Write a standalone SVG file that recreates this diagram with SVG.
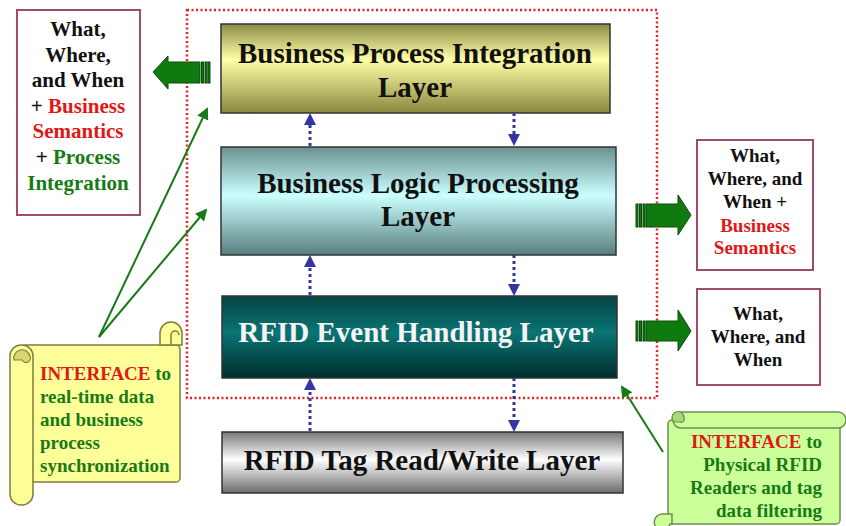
<svg xmlns="http://www.w3.org/2000/svg" width="846" height="526" viewBox="0 0 846 526">
  <style>
    text { font-family: "Liberation Serif", "Times New Roman", serif; font-weight: bold; }
    .title { font-size: 29px; text-anchor: middle; fill: #111; }
    .box { fill: #fff; stroke: #a04c6c; stroke-width: 2; }
    .side { font-size: 21px; text-anchor: middle; fill: #111; }
    .sideR { font-size: 19px; text-anchor: middle; fill: #111; }
    .note { font-size: 19px; }
    .red { fill: #e01818; }
    .grn { fill: #177a17; }
    .blk { fill: #111; }
    .layer { stroke: #333; stroke-width: 1.5; }
    .flow { stroke: #3434a4; stroke-width: 3; stroke-dasharray: 3 3; fill: none; }
    .point { stroke: #177a17; stroke-width: 2; fill: none; }
    .block { fill: #0e7a10; stroke: #0a4a0a; stroke-width: 1; }
    .scrollY { fill: #ffff99; stroke: #7c7c40; stroke-width: 1.5; }
    .scrollG { fill: #ccff99; stroke: #6c9050; stroke-width: 1.5; }
  </style>
  <defs>
    <linearGradient id="gOlive" x1="0" y1="0" x2="0" y2="1">
      <stop offset="0" stop-color="#8c8c46"/>
      <stop offset="0.4" stop-color="#ffffa8"/>
      <stop offset="1" stop-color="#88883e"/>
    </linearGradient>
    <linearGradient id="gCyan" x1="0" y1="0" x2="0" y2="1">
      <stop offset="0" stop-color="#6a9090"/>
      <stop offset="0.45" stop-color="#ccffff"/>
      <stop offset="1" stop-color="#587e7e"/>
    </linearGradient>
    <linearGradient id="gTeal" x1="0" y1="0" x2="0" y2="1">
      <stop offset="0" stop-color="#064444"/>
      <stop offset="0.45" stop-color="#0a7474"/>
      <stop offset="1" stop-color="#002c2c"/>
    </linearGradient>
    <linearGradient id="gGray" x1="0" y1="0" x2="0" y2="1">
      <stop offset="0" stop-color="#777"/>
      <stop offset="0.45" stop-color="#fff"/>
      <stop offset="1" stop-color="#6c6c6c"/>
    </linearGradient>
    <marker id="headBlue" markerWidth="4" markerHeight="4" refX="2" refY="2" orient="auto" markerUnits="strokeWidth">
      <path d="M0,0 L4,2 L0,4 Z" fill="#3434a4"/>
    </marker>
    <marker id="headGreen" markerWidth="6" markerHeight="6" refX="5" refY="3" orient="auto" markerUnits="strokeWidth">
      <path d="M0,0 L6,3 L0,6 Z" fill="#177a17"/>
    </marker>
  </defs>

  <rect width="846" height="526" fill="#fff"/>

  <!-- boundary of the middleware layers -->
  <rect x="187" y="10" width="470" height="388" fill="none" stroke="#e8202a" stroke-width="2.5" stroke-dasharray="2 2.5"/>

  <g id="layer-bpi">
    <rect class="layer" x="221" y="24" width="389" height="89" fill="url(#gOlive)"/>
    <text class="title" x="415" y="63">Business Process Integration</text>
    <text class="title" x="415" y="97">Layer</text>
  </g>
  <g id="layer-blp">
    <rect class="layer" x="221" y="147" width="395" height="108" fill="url(#gCyan)"/>
    <text class="title" x="418" y="193">Business Logic Processing</text>
    <text class="title" x="418" y="226">Layer</text>
  </g>
  <g id="layer-event">
    <rect class="layer" x="222" y="296" width="395" height="82" fill="url(#gTeal)"/>
    <text class="title" x="416" y="342" style="fill:#f4f4f4">RFID Event Handling Layer</text>
  </g>
  <g id="layer-tag">
    <rect class="layer" x="222" y="432" width="401" height="61" fill="url(#gGray)"/>
    <text class="title" x="422" y="470">RFID Tag Read/Write Layer</text>
  </g>

  <g id="out-left">
    <rect class="box" x="17" y="10" width="123" height="205"/>
    <text class="side" x="78" y="36">What,</text>
    <text class="side" x="78" y="62">Where,</text>
    <text class="side" x="78" y="87">and When</text>
    <text class="side" x="78" y="113"><tspan class="blk">+ </tspan><tspan class="red">Business</tspan></text>
    <text class="side red" x="78" y="138">Semantics</text>
    <text class="side" x="78" y="164"><tspan class="blk">+ </tspan><tspan class="grn">Process</tspan></text>
    <text class="side grn" x="78" y="190">Integration</text>
  </g>

  <g id="out-right-logic">
    <rect class="box" x="697" y="140" width="116" height="130"/>
    <text class="sideR" x="755" y="162">What,</text>
    <text class="sideR" x="755" y="185">Where, and</text>
    <text class="sideR" x="755" y="208">When +</text>
    <text class="sideR red" x="755" y="232">Business</text>
    <text class="sideR red" x="755" y="254">Semantics</text>
  </g>

  <g id="out-right-event">
    <rect class="box" x="697" y="289" width="123" height="96"/>
    <text class="sideR" x="758" y="320">What,</text>
    <text class="sideR" x="758" y="343">Where, and</text>
    <text class="sideR" x="758" y="366">When</text>
  </g>

  <g id="note-app">
    <rect class="scrollY" x="22" y="345" width="158" height="137" rx="4"/>
    <path class="scrollY" d="M160,345 V333 A11,11 0 0 1 182,333 V345 Z"/>
    <path class="scrollY" d="M171,345 V335 A4,4 0 0 1 179,335" fill="none"/>
    <rect class="scrollY" x="10" y="345" width="23" height="160" rx="11"/>
    <path d="M14,360 A8,8 0 0 1 30,356 A4,4 0 0 1 22,360 Z" fill="#d8d870" stroke="#7c7c40" stroke-width="1.2"/>
    <text class="note" x="40" y="380"><tspan class="red">INTERFACE</tspan><tspan class="grn"> to</tspan></text>
    <text class="note grn" x="40" y="403">real-time data</text>
    <text class="note grn" x="40" y="426">and business</text>
    <text class="note grn" x="40" y="449">process</text>
    <text class="note grn" x="40" y="472">synchronization</text>
  </g>

  <g id="note-reader">
    <rect class="scrollG" x="668" y="420" width="172" height="104" rx="4"/>
    <rect class="scrollG" x="673" y="412" width="173" height="16" rx="8"/>
    <path d="M674,422 A6,6 0 1 1 684,418 A3,3 0 0 1 680,422 Z" fill="#a8d878" stroke="#6c9050" stroke-width="1.2"/>
    <path class="scrollG" d="M670,524 A8,8 0 1 1 662,514 H672 V524 Z"/>
    <text class="note" x="822" y="448" text-anchor="end"><tspan class="red">INTERFACE</tspan><tspan class="grn"> to</tspan></text>
    <text class="note grn" x="822" y="471" text-anchor="end">Physical RFID</text>
    <text class="note grn" x="822" y="494" text-anchor="end">Readers and tag</text>
    <text class="note grn" x="822" y="517" text-anchor="end">data filtering</text>
  </g>

  <g id="connectors">
    <!-- data flow between layers -->
    <line class="flow" x1="310" y1="146" x2="310" y2="119" marker-end="url(#headBlue)"/>
    <line class="flow" x1="514" y1="113" x2="514" y2="140" marker-end="url(#headBlue)"/>
    <line class="flow" x1="310" y1="295" x2="310" y2="261" marker-end="url(#headBlue)"/>
    <line class="flow" x1="514" y1="255" x2="514" y2="290" marker-end="url(#headBlue)"/>
    <line class="flow" x1="310" y1="431" x2="310" y2="384" marker-end="url(#headBlue)"/>
    <line class="flow" x1="514" y1="378" x2="514" y2="426" marker-end="url(#headBlue)"/>

    <!-- outputs as block arrows -->
    <path class="block" d="M153,72 L168,56 L168,62 L200,62 L200,83 L168,83 L168,89 Z"/>
    <rect class="block" x="201.5" y="62" width="2" height="21"/>
    <rect class="block" x="205" y="62" width="2" height="21"/>
    <rect class="block" x="208" y="62" width="2" height="21"/>

    <path class="block" d="M691,215 L678,195 L678,204 L646,204 L646,227 L678,227 L678,235 Z"/>
    <rect class="block" x="636" y="204" width="2" height="23"/>
    <rect class="block" x="639.5" y="204" width="2" height="23"/>
    <rect class="block" x="643" y="204" width="2" height="23"/>

    <path class="block" d="M691,331 L678,310 L678,321 L646,321 L646,341 L678,341 L678,351 Z"/>
    <rect class="block" x="636" y="321" width="2" height="20"/>
    <rect class="block" x="639.5" y="321" width="2" height="20"/>
    <rect class="block" x="643" y="321" width="2" height="20"/>

    <!-- notes pointing at the layers -->
    <line class="point" x1="99" y1="337" x2="207" y2="109" marker-end="url(#headGreen)"/>
    <line class="point" x1="99" y1="337" x2="206" y2="210" marker-end="url(#headGreen)"/>
    <line class="point" x1="663" y1="452" x2="622" y2="387" marker-end="url(#headGreen)"/>
  </g>
</svg>
